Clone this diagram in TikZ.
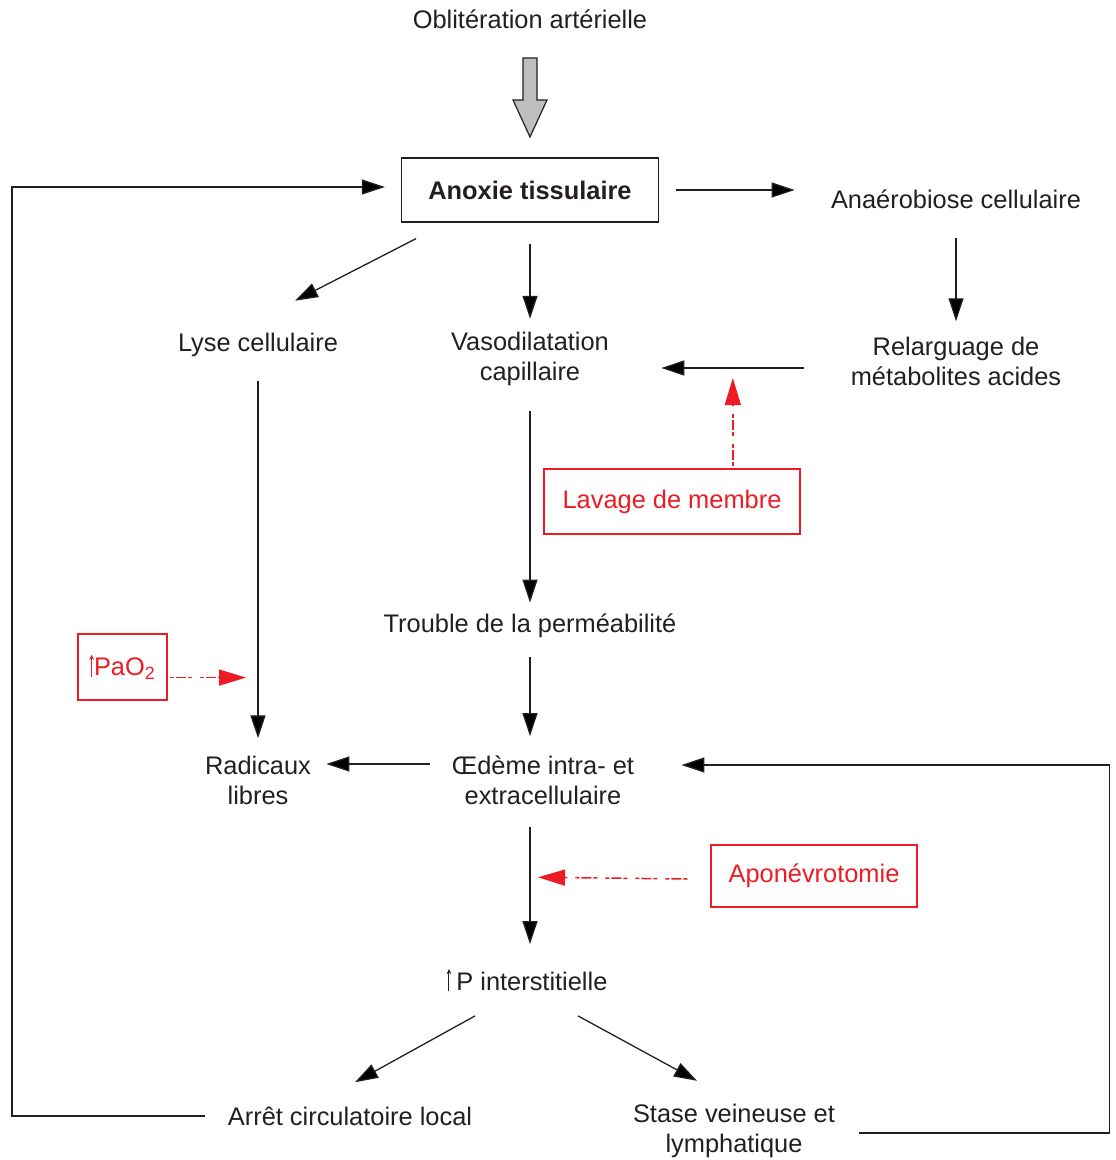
\documentclass[tikz,border=0pt]{standalone}
\usepackage{fontspec}
\setmainfont{Liberation Sans}
\usetikzlibrary{arrows.meta}
\definecolor{myred}{RGB}{237,28,36}
\definecolor{ink}{RGB}{35,31,32}
\definecolor{arrgray}{RGB}{190,190,192}
\newcommand\uparr[1]{\tikz[baseline=0pt]\draw[#1,line width=0.5pt,-{Stealth[length=2.6pt,width=2.4pt]}] (0,-0.5pt)--(0,10.5pt);}
\begin{document}
\begin{tikzpicture}[x=0.5pt,y=-0.5pt,
  every node/.style={font=\fontsize{12.7}{15}\selectfont, text=ink, inner sep=0pt, align=center},
  conn/.style={draw=ink, line width=0.65pt, -{Triangle[length=11.5pt,width=7.5pt]}},
  redconn/.style={draw=myred, line width=0.75pt, dash pattern=on 2pt off 1pt on 5pt off 1pt on 2pt off 4pt, -{Triangle[length=13.5pt,width=8pt]}},
  blackbox/.style={draw=ink, line width=0.65pt},
  redbox/.style={draw=myred, text=myred, line width=0.65pt}]
\useasboundingbox (0,0) rectangle (1115,1160);

% nodes
\node (top) at (530,19) {Oblitération artérielle};
\node[blackbox, minimum width=128.5pt, minimum height=32pt, font=\fontsize{12.7}{15}\selectfont\bfseries] (anox) at (530,190) {Anoxie tissulaire};
\node (anae) at (956,199) {Anaérobiose cellulaire};
\node (lyse) at (258,345) {Lyse cellulaire};
\node (vaso) at (530,359) {Vasodilatation\\capillaire};
\node (relar) at (956,361) {Relarguage de\\métabolites acides};
\node[redbox, minimum width=128pt, minimum height=32.5pt] (lavage) at (672,501.5) {Lavage de membre};
\node (trouble) at (530,626) {Trouble de la perméabilité};
\node[redbox, minimum width=44.5pt, minimum height=33pt] (pao) at (122.5,667) {\uparr{myred}PaO\textsubscript{2}};
\node (radic) at (258,780) {Radicaux\\libres};
\node (oedeme) at (543,780) {Œdème intra- et\\extracellulaire};
\node[redbox, minimum width=103pt, minimum height=31pt] (apon) at (814,876) {Aponévrotomie};
\node (pint) at (527,980) {\uparr{ink}\hspace{2.5pt}P interstitielle};
\node (arret) at (350,1116) {Arrêt circulatoire local};
\node (stase) at (734,1131) {Stase veineuse et\\lymphatique};

% big grey arrow
\filldraw[fill=arrgray, draw=ink, line width=0.6pt]
  (523,58) -- (537,58) -- (537,100) -- (547,100) -- (530,137) -- (513,100) -- (523,100) -- cycle;

% connectors
\draw[conn] ([xshift=8.5pt]anox.east) -- ([xshift=-18pt]anox.east -| anae.west);
\draw[conn] ([xshift=-11.5pt]arret.west) -| ([xshift=-194.5pt,yshift=1.5pt]anox.west) -- ([xshift=-8pt,yshift=1.5pt]anox.west);
\draw[conn] ([xshift=-57pt,yshift=-8pt]anox.south) -- ([xshift=18.5pt,yshift=16pt]lyse.north);
\draw[conn] ([yshift=-10.5pt]anox.south) -- ([yshift=6.5pt]vaso.north);
\draw[conn] ([yshift=-14.5pt]anae.south) -- ([yshift=7.5pt]relar.north);
\draw[conn] ([xshift=-23pt,yshift=-3.5pt]relar.west) -- coordinate[pos=0.5] (m7) ([xshift=26pt,yshift=-4.5pt]vaso.east);
\draw[redconn] ([yshift=1pt]lavage.north -| m7) -- ([yshift=-5pt]m7);
\draw[conn] ([yshift=-12.5pt]vaso.south) -- ([yshift=5.5pt]trouble.north);
\draw[conn] ([yshift=-12pt]lyse.south) -- coordinate[pos=0.83] (m10) ([yshift=8.5pt]radic.north);
\draw[redconn] ([xshift=1pt]pao.east |- m10) -- ([xshift=-6pt]m10);
\draw[conn] ([yshift=-9.5pt]trouble.south) -- ([xshift=-6.5pt,yshift=9.5pt]oedeme.north);
\draw[conn] ([xshift=-11pt,yshift=8pt]oedeme.west) -- ([xshift=7.5pt,yshift=8pt]radic.east);
\draw[conn] ([xshift=12pt,yshift=-1pt]stase.east) -| ([xshift=237.5pt,yshift=7.5pt]oedeme.east) -- ([xshift=23.5pt,yshift=7.5pt]oedeme.east);
\draw[conn] ([xshift=-6.5pt,yshift=-11pt]oedeme.south) -- coordinate[pos=0.43] (m15) ([xshift=1.5pt,yshift=12pt]pint.north);
\draw[redconn] ([xshift=-11.5pt,yshift=-1.5pt]apon.west) -- ([xshift=4pt]m15);
\draw[conn] ([xshift=-26pt,yshift=-12pt]pint.south) -- ([xshift=2.5pt,yshift=12pt]arret.north);
\draw[conn] ([xshift=25.5pt,yshift=-12pt]pint.south) -- ([xshift=-18.5pt,yshift=11.5pt]stase.north);
\end{tikzpicture}
\end{document}
